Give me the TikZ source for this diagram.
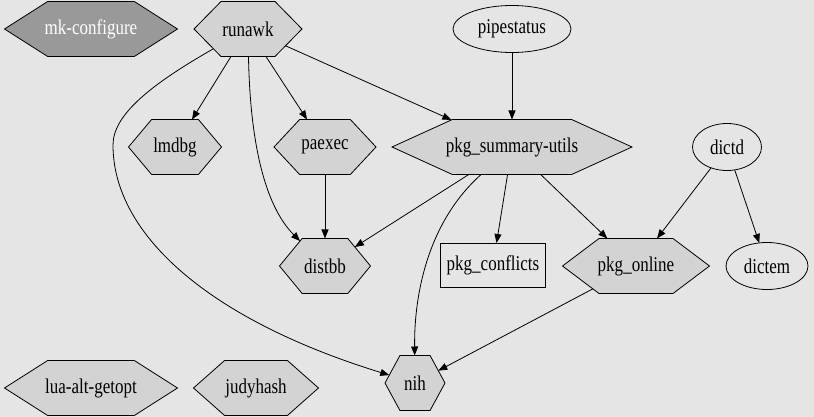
\documentclass[tikz,border=0pt]{standalone}
\usepackage{fontspec}
\setmainfont{Liberation Serif}
\usetikzlibrary{shapes.geometric,shapes.symbols,arrows.meta}
\definecolor{bgc}{RGB}{229,229,229}
\definecolor{hexfill}{RGB}{211,211,211}
\definecolor{darkfill}{RGB}{153,153,153}
\newcommand\lbl[1]{\makebox[0pt]{\scalebox{0.81}[1]{#1}}}
\tikzset{
  every node/.style={font=\fontsize{21}{25}\selectfont, inner sep=0pt, outer sep=0pt},
  hexa/.style={shape=signal, signal to=east and west, draw, fill=hexfill, minimum height=55pt},
  oval/.style={ellipse, draw, minimum height=47pt},
  box/.style={rectangle, draw, minimum height=44pt},
}
\begin{document}
\begin{tikzpicture}[x=1pt, y=-1pt, >={Triangle[length=9pt,width=7pt]}, line width=0.8pt]
\fill[bgc] (0,0) rectangle (814,417);
\useasboundingbox (0,0) rectangle (814,417);
% top row
\node[hexa, fill=darkfill, text=white, minimum width=173pt, signal pointer angle=65] (mkconf) at (91,29) {\lbl{mk-configure}};
\node[hexa, minimum width=108pt, signal pointer angle=91] (runawk) at (248,29) {\lbl{runawk}};
\node[oval, minimum width=118pt] (pipest) at (512,29) {\lbl{pipestatus}};
% second row
\node[hexa, minimum width=93pt, signal pointer angle=100] (lmdbg) at (175,147) {\lbl{lmdbg}};
\node[hexa, minimum width=102pt, signal pointer angle=94] (paexec) at (325,147) {\lbl{paexec}};
\node[hexa, minimum width=240pt, signal pointer angle=49] (psu) at (512,147) {\lbl{pkg\_summary-utils}};
\node[oval, minimum width=69pt] (dictd) at (727,147) {\lbl{dictd}};
% third row
\node[hexa, minimum width=91pt, signal pointer angle=101] (distbb) at (325,266) {\lbl{distbb}};
\node[box, minimum width=105pt] (conflicts) at (493,265) {\lbl{pkg\_conflicts}};
\node[hexa, minimum width=147pt, signal pointer angle=74] (online) at (636,266) {\lbl{pkg\_online}};
\node[oval, minimum width=82pt] (dictem) at (767,266) {\lbl{dictem}};
% bottom row
\node[hexa, minimum width=173pt, signal pointer angle=65] (luaopt) at (91,388) {\lbl{lua-alt-getopt}};
\node[hexa, minimum width=125pt, signal pointer angle=83] (judy) at (256,388) {\lbl{judyhash}};
\node[hexa, minimum width=60pt, signal pointer angle=123] (nih) at (415,383) {\lbl{nih}};
% edges
\draw[->] (runawk)--(lmdbg);
\draw[->] (runawk)--(paexec);
\draw[->] (runawk)--(psu);
\draw[->] (runawk) .. controls (250,140) and (264,205) .. (distbb);
\draw[->] (runawk) .. controls (150,85) and (113,115) .. (113,145) .. controls (113,235) and (210,320) .. (nih);
\draw[->] (pipest)--(psu);
\draw[->] (paexec)--(distbb);
\draw[->] (psu)--(distbb);
\draw[->] (psu)--(conflicts);
\draw[->] (psu)--(online);
\draw[->] (psu) .. controls (430,220) and (414,290) .. (nih);
\draw[->] (dictd)--(online);
\draw[->] (dictd)--(dictem);
\draw[->] (online)--(nih);
\end{tikzpicture}
\end{document}
